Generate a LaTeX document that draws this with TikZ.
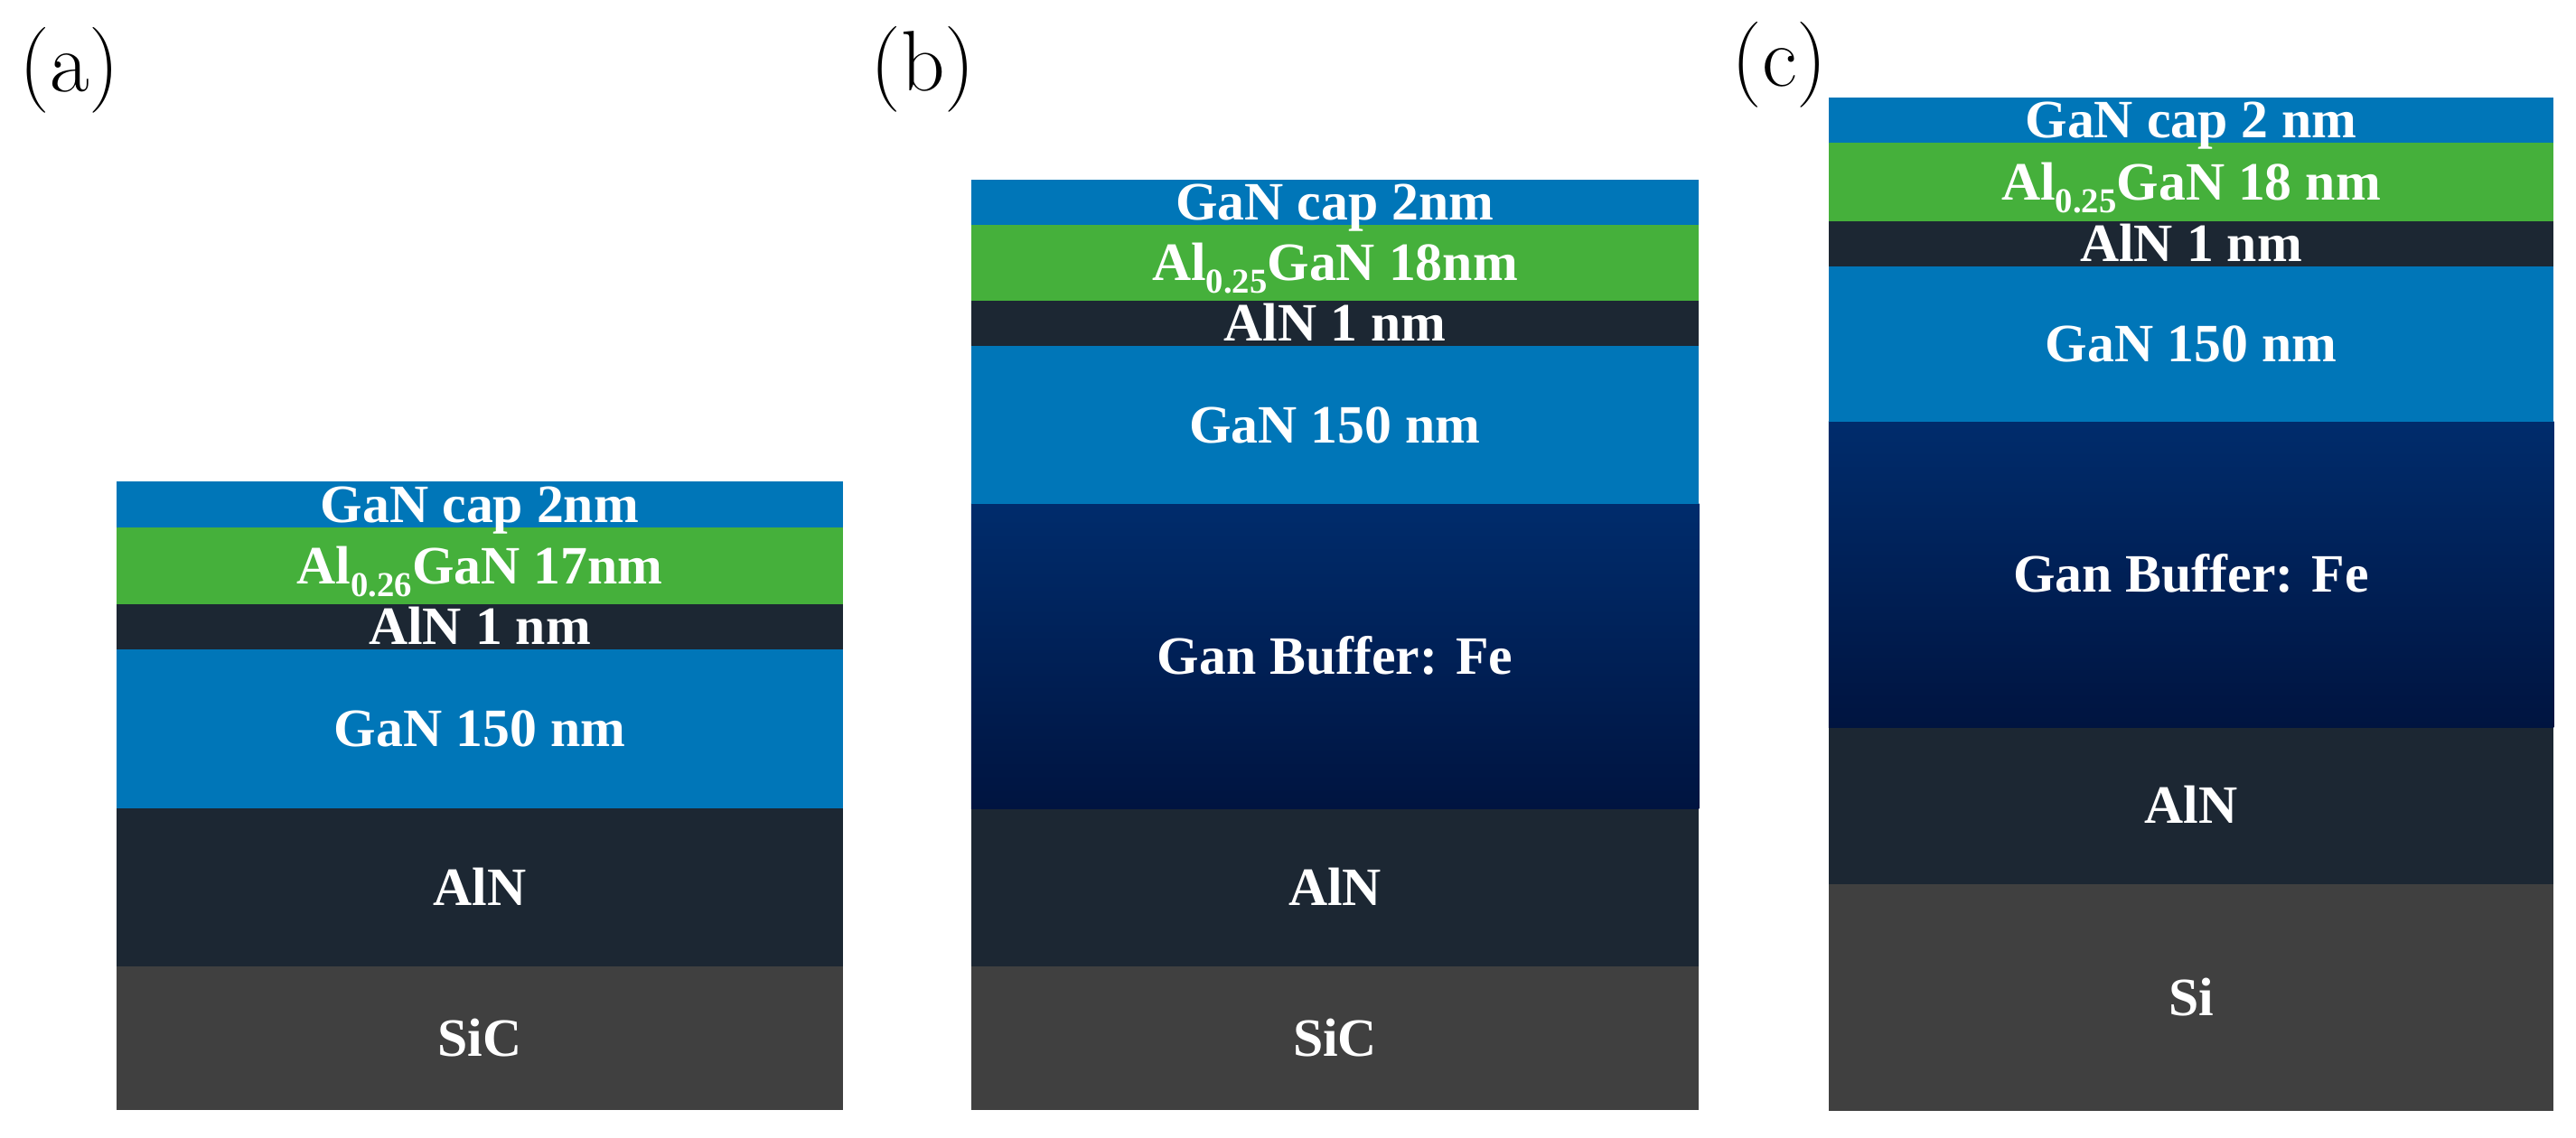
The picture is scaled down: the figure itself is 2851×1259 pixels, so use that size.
\documentclass[tikz,border=0pt]{standalone}
\usepackage{fontspec}
\IfFontExistsTF{Liberation Serif}
    {\newfontfamily\layerfont{Liberation Serif}[BoldFont={Liberation Serif Bold}]}
    {\newfontfamily\layerfont{DejaVu Serif}}

\definecolor{gancol}{HTML}{0076B8}
\definecolor{algancol}{HTML}{45B03B}
\definecolor{alncol}{HTML}{1C2733}
\definecolor{subcol}{HTML}{404040}
\definecolor{buftop}{HTML}{002C6C}
\definecolor{bufbot}{HTML}{001440}

\newcommand{\molfrac}[1]{\raisebox{-4pt}{\fontsize{11}{12}\selectfont #1}}

\tikzset{
    layer/.style={rectangle, inner sep=0pt, outer sep=0pt, text=white,
        font=\layerfont\bfseries\fontsize{17}{20}\selectfont,
        text height=11.2pt, text depth=0pt},
    panellabel/.style={anchor=base west, inner sep=0pt,
        font=\fontsize{27}{32}\selectfont},
    buffer/.style={top color=buftop, bottom color=bufbot}
}

\begin{document}
\begin{tikzpicture}[x=0.01cm, y=-0.01cm]
\useasboundingbox (0,0) rectangle (2851,1259);

% (a) GaN on SiC
\begin{scope}[every node/.style={layer, minimum width=8.04cm}]
    \node (asub) at (531, 1149.5) [fill=subcol, minimum height=1.59cm] {SiC};
    \node (anucl) at (531, 982.5) [fill=alncol, minimum height=1.75cm] {AlN};
    \node (achannel) at (531, 807) [fill=gancol, minimum height=1.76cm] {GaN 150 nm};
    \node (aspacer) at (531, 694) [fill=alncol, minimum height=0.50cm] {AlN 1 nm};
    \node (abarrier) at (531, 626.5) [fill=algancol, minimum height=0.85cm] {Al\molfrac{0.26}GaN 17nm};
    \node (acap) at (531, 558.5) [fill=gancol, minimum height=0.51cm] {GaN cap 2nm};
\end{scope}

% (b) GaN:Fe buffer on SiC
\begin{scope}[every node/.style={layer, minimum width=8.05cm}]
    \node (bsub) at (1477.5, 1149.5) [fill=subcol, minimum height=1.59cm] {SiC};
    \node (bnucl) at (1477.5, 982.5) [fill=alncol, minimum height=1.75cm] {AlN};
    \node (bbuffer) at (1477.5, 726.5) [buffer, minimum height=3.37cm] {Gan Buffer: Fe};
    \node (bchannel) at (1477.5, 470.5) [fill=gancol, minimum height=1.75cm] {GaN 150 nm};
    \node (bspacer) at (1477.5, 358) [fill=alncol, minimum height=0.50cm] {AlN 1 nm};
    \node (bbarrier) at (1477.5, 291) [fill=algancol, minimum height=0.84cm] {Al\molfrac{0.25}GaN 18nm};
    \node (bcap) at (1477.5, 224) [fill=gancol, minimum height=0.50cm] {GaN cap 2nm};
\end{scope}

% (c) GaN:Fe buffer on Si
\begin{scope}[every node/.style={layer, minimum width=8.02cm}]
    \node (csub) at (2425, 1104.5) [fill=subcol, minimum height=2.51cm] {Si};
    \node (cnucl) at (2425, 892) [fill=alncol, minimum height=1.74cm] {AlN};
    \node (cbuffer) at (2425, 636) [buffer, minimum height=3.38cm] {Gan Buffer: Fe};
    \node (cchannel) at (2425, 381) [fill=gancol, minimum height=1.72cm] {GaN 150 nm};
    \node (cspacer) at (2425, 270) [fill=alncol, minimum height=0.50cm] {AlN 1 nm};
    \node (cbarrier) at (2425, 201.5) [fill=algancol, minimum height=0.87cm] {Al\molfrac{0.25}GaN 18 nm};
    \node (ccap) at (2425, 133) [fill=gancol, minimum height=0.50cm] {GaN cap 2 nm};
\end{scope}

\node (alabel) at (21, 101) [panellabel] {(a)};
\node (blabel) at (963, 100) [panellabel] {(b)};
\node (clabel) at (1916, 95) [panellabel] {(c)};
\end{tikzpicture}
\end{document}
